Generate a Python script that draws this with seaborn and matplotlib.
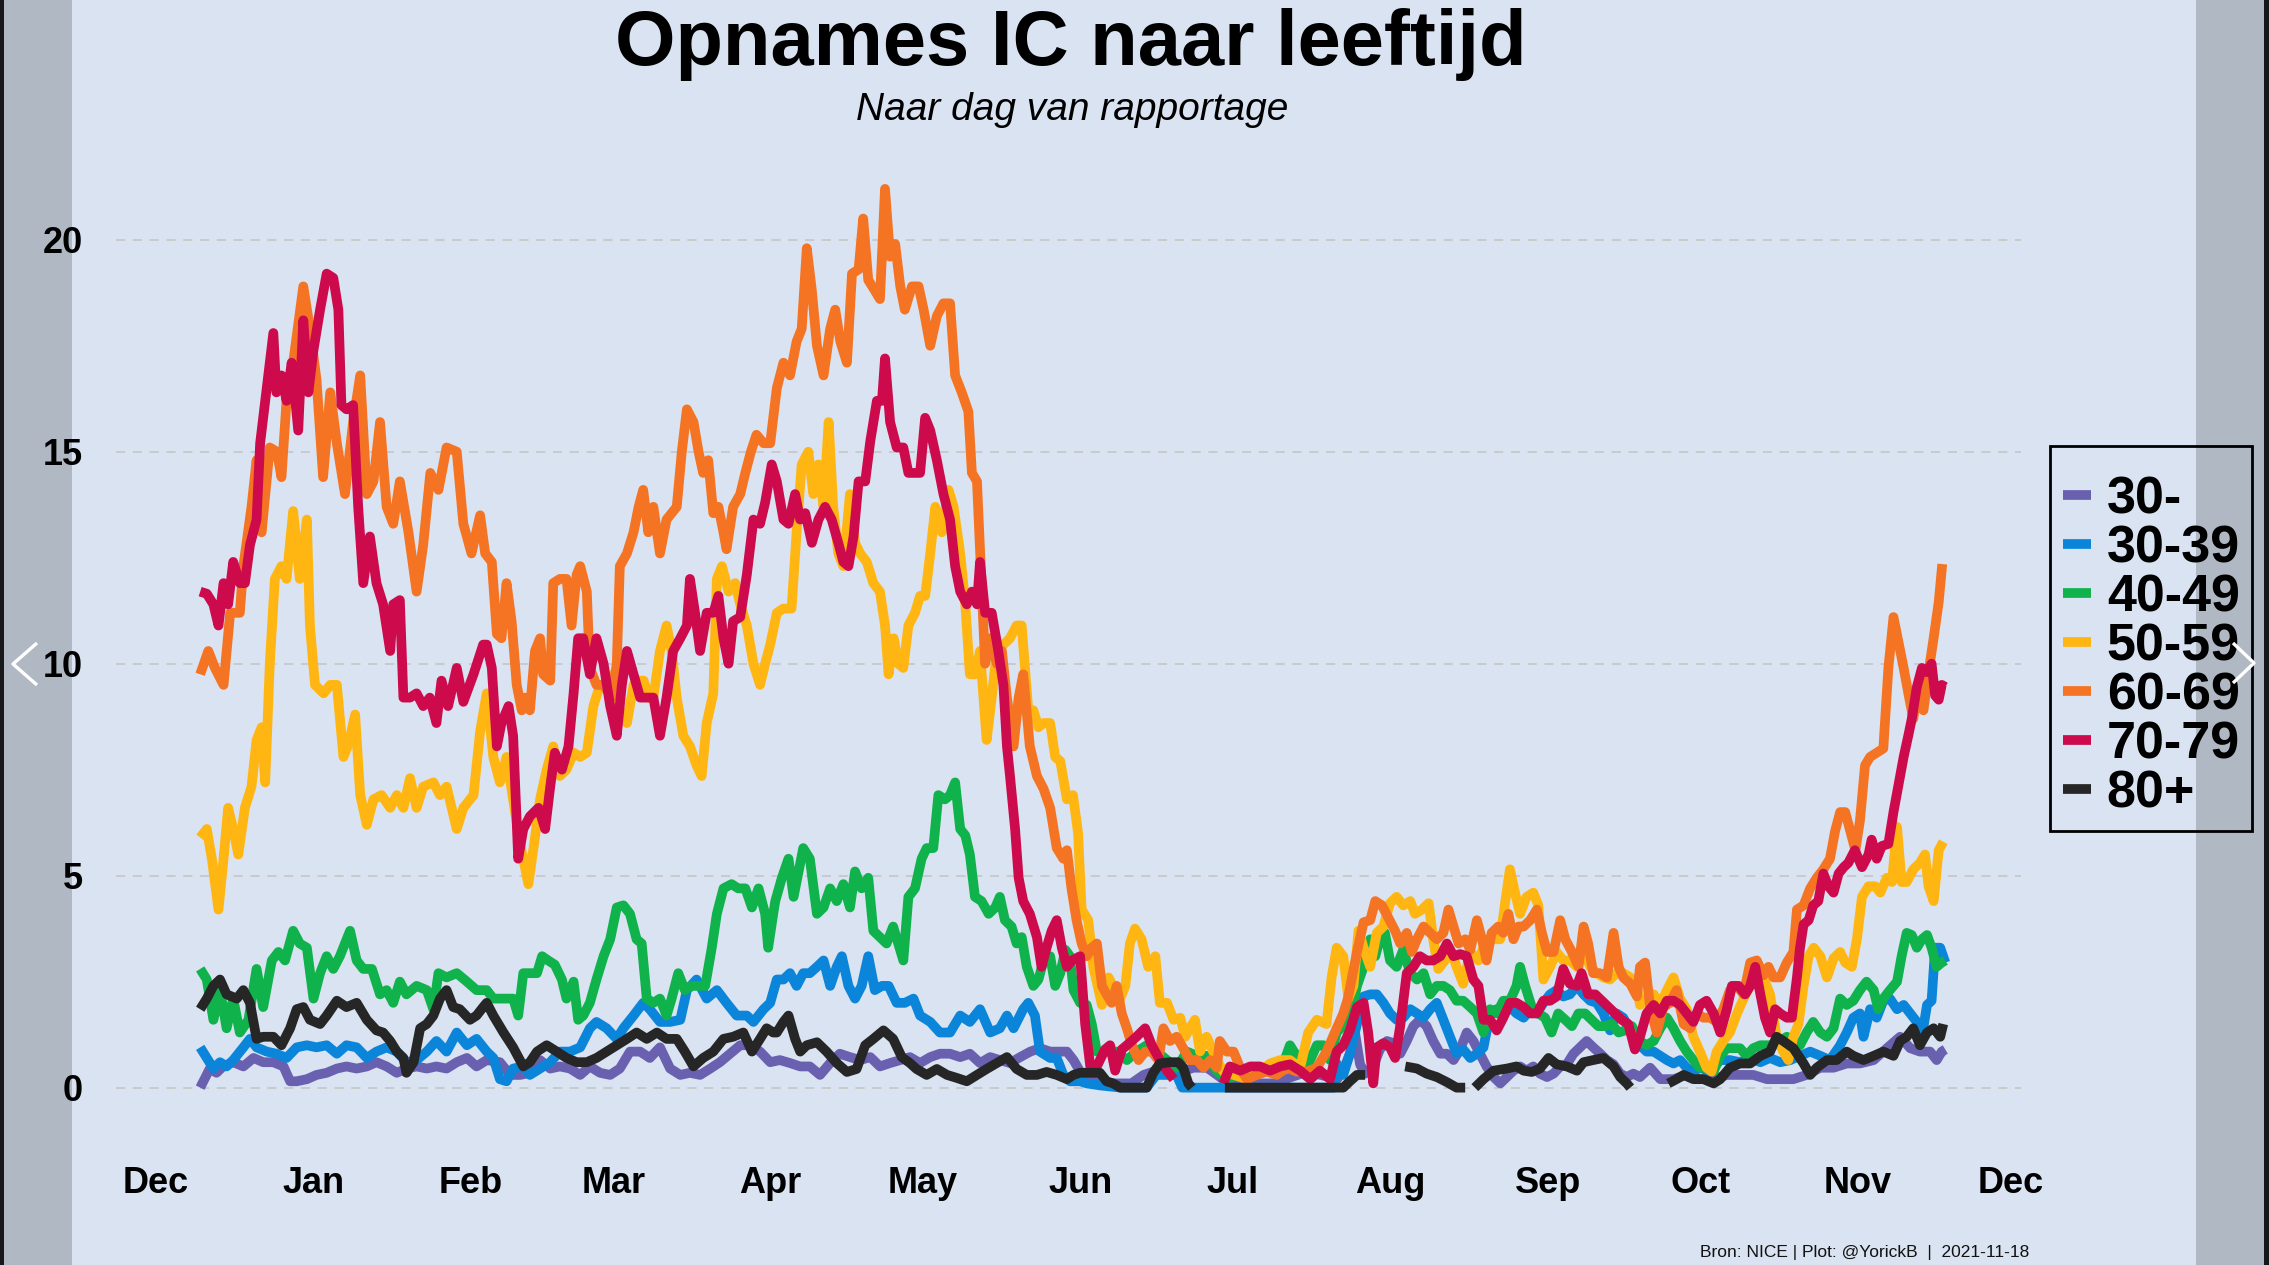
import numpy as np
import pandas as pd
import matplotlib
matplotlib.use("Agg")
import matplotlib.pyplot as plt
import seaborn as sns
from matplotlib.patches import Rectangle
from matplotlib.lines import Line2D
from matplotlib.font_manager import FontProperties

nan = float("nan")

# ---------------- data (x = days since 2020-12-01, y = IC admissions) ----------------
groups = ["30-", "30-39", "40-49", "50-59", "60-69", "70-79", "80+"]
colors = ["#6a60b0", "#0a85d9", "#10b24c", "#ffb612", "#f47423", "#cd0a4b", "#262626"]
month_labels = ["Dec", "Jan", "Feb", "Mar", "Apr", "May", "Jun", "Jul", "Aug", "Sep", "Oct", "Nov", "Dec"]
y_ticks = [0, 5, 10, 15, 20]

p30 = [(8.7,0.0),(10.6,0.45),(11.9,0.35),(13.2,0.5),(15.2,0.6),(17.2,0.5),(19.2,0.7),(21.1,0.6),(23.1,0.6),(25.1,0.5),(26.4,0.15),(27.7,0.15),(29.7,0.2),(31.6,0.3),(33.6,0.35),(35.6,0.45),(37.5,0.5),(39.5,0.45),(41.5,0.5),(43.4,0.6),(45.4,0.5),(47.4,0.35),(49.3,0.45),(51.3,0.5),(53.3,0.45),(55.2,0.5),(57.2,0.45),(59.2,0.6),(61.2,0.7),(63.1,0.5),(65.1,0.65),(67.7,0.6),(69.7,0.3),(71.7,0.3),(73.6,0.35),(75.6,0.65),(77.6,0.45),(79.5,0.5),(81.5,0.45),(83.5,0.3),(85.4,0.5),(87.4,0.35),(89.4,0.3),(91.3,0.45),(93.3,0.85),(95.3,0.85),(97.2,0.7),(99.2,0.95),(101.2,0.45),(103.2,0.3),(105.1,0.35),(107.1,0.3),(109.1,0.45),(111.0,0.6),(113.0,0.8),(115.0,1.0),(116.9,1.0),(118.9,0.85),(120.9,0.6),(122.8,0.65),(124.8,0.58),(126.8,0.5),(128.7,0.5),(130.7,0.3),(132.7,0.58),(134.6,0.8),(136.6,0.72),(138.6,0.65),(140.6,0.72),(142.5,0.5),(144.5,0.58),(146.5,0.65),(148.4,0.72),(150.4,0.58),(152.4,0.72),(154.3,0.8),(156.3,0.8),(158.3,0.72),(160.2,0.8),(162.2,0.58),(164.2,0.72),(166.1,0.65),(168.1,0.58),(170.1,0.72),(172.1,0.85),(174.0,0.93),(176.0,0.85),(178.0,0.85),(179.3,0.85),(180.6,0.65),(181.9,0.38),(184.0,0.2),(188.0,0.1),(192.0,0.1),(194.4,0.3),(196.4,0.38),(200.0,0.3),(204.2,0.47),(206.9,0.47),(210.0,0.2),(215.0,0.1),(220.0,0.1),(226.6,0.38),(229.2,0.3),(232.5,0.2),(234.0,0.5),(235.0,0.8),(236.0,1.3),(237.0,0.55),(238.0,0.33),(239.6,0.5),(240.9,0.9),(242.3,1.1),(243.6,1.05),(244.9,0.8),(246.2,1.1),(247.5,1.45),(248.8,1.6),(250.1,1.45),(251.4,1.1),(252.8,0.8),(254.1,0.8),(255.4,0.65),(256.7,0.9),(258.0,1.3),(259.3,1.1),(260.6,0.8),(261.9,0.5),(263.3,0.25),(264.6,0.1),(265.9,0.25),(267.2,0.4),(268.5,0.5),(269.8,0.4),(271.1,0.5),(272.4,0.33),(273.8,0.25),(275.1,0.33),(276.4,0.5),(277.7,0.55),(279.0,0.8),(280.3,0.95),(281.6,1.1),(282.9,0.95),(284.3,0.8),(285.6,0.65),(286.9,0.55),(288.2,0.33),(289.5,0.25),(290.8,0.33),(292.1,0.25),(294.1,0.47),(296.1,0.2),(298.7,0.2),(301.3,0.3),(303.9,0.2),(306.6,0.2),(309.2,0.3),(311.8,0.3),(314.4,0.3),(317.1,0.2),(319.7,0.2),(322.3,0.2),(324.9,0.3),(327.6,0.47),(330.2,0.47),(332.8,0.57),(335.4,0.57),(338.1,0.65),(340.7,0.93),(343.3,1.2),(345.3,0.93),(347.2,0.85),(349.2,0.85),(350.5,0.65),(351.5,0.85),(352.2,0.9)]

b3039 = [(8.7,0.95),(10.0,0.7),(11.3,0.45),(12.6,0.6),(13.9,0.5),(15.2,0.65),(17.2,0.95),(18.5,1.15),(19.8,0.95),(21.8,0.85),(23.7,0.8),(25.7,0.7),(27.7,0.95),(29.7,1.0),(31.6,0.95),(33.6,1.0),(35.6,0.8),(37.5,1.0),(39.5,0.95),(41.5,0.7),(43.4,0.85),(45.4,0.95),(47.4,0.85),(49.3,0.6),(51.3,0.65),(53.3,0.85),(55.2,1.1),(57.2,0.85),(59.2,1.3),(61.2,1.0),(63.1,1.15),(65.1,0.85),(66.4,0.7),(67.7,0.2),(69.0,0.15),(70.3,0.45),(72.3,0.5),(73.6,0.3),(75.6,0.45),(77.6,0.6),(79.5,0.85),(81.5,0.85),(83.5,0.95),(85.4,1.4),(86.7,1.55),(88.7,1.4),(90.7,1.15),(92.0,1.4),(94.0,1.7),(95.9,2.0),(97.2,1.85),(99.2,1.55),(101.2,1.55),(103.2,1.6),(104.5,2.3),(106.4,2.55),(108.4,2.1),(110.4,2.3),(112.3,2.0),(114.3,1.7),(116.3,1.7),(117.6,1.55),(119.6,1.85),(120.9,2.0),(122.2,2.55),(123.5,2.55),(124.8,2.7),(126.1,2.4),(127.4,2.7),(128.7,2.7),(130.1,2.85),(131.4,3.0),(132.7,2.4),(134.0,2.85),(135.0,3.1),(136.3,2.4),(137.6,2.1),(138.9,2.4),(140.2,3.1),(141.5,2.3),(142.9,2.4),(144.2,2.4),(145.8,2.0),(147.4,2.0),(149.1,2.1),(150.4,1.7),(152.4,1.55),(154.3,1.3),(156.3,1.3),(158.3,1.7),(160.2,1.55),(162.2,1.85),(164.2,1.3),(166.1,1.4),(167.5,1.7),(168.8,1.4),(170.7,1.85),(171.7,2.0),(173.0,1.7),(174.0,0.85),(176.0,0.7),(177.3,0.7),(178.6,0.3),(179.9,0.15),(181.9,0.15),(183.2,0.1),(186.0,0.05),(190.0,0.0),(195.0,0.0),(196.9,0.3),(200.9,0.3),(202.0,0.0),(231.8,0.0),(232.4,0.57),(233.7,0.3),(235.0,0.8),(236.4,1.5),(237.7,2.15),(239.0,2.2),(240.3,2.2),(241.6,2.0),(242.9,1.75),(244.2,1.6),(245.5,1.65),(246.9,1.85),(248.2,1.75),(249.5,1.65),(250.8,1.85),(252.1,2.0),(253.4,1.6),(254.7,1.2),(256.0,0.8),(257.3,0.9),(258.7,0.7),(260.0,0.8),(261.3,0.95),(262.6,1.75),(263.9,1.85),(265.2,1.75),(266.5,1.9),(267.8,1.75),(269.2,1.65),(270.5,1.85),(271.8,1.75),(273.1,2.0),(274.4,2.2),(275.7,2.3),(277.0,2.15),(278.3,2.2),(279.7,2.4),(281.0,2.2),(282.3,2.05),(283.6,2.0),(284.9,1.75),(286.2,1.35),(287.5,1.75),(288.8,1.65),(290.2,1.35),(291.5,1.3),(292.1,1.0),(293.4,0.85),(294.8,0.85),(296.1,0.75),(297.4,0.65),(298.7,0.57),(300.0,0.65),(301.3,0.47),(302.6,0.38),(303.9,0.47),(305.9,0.38),(307.9,0.65),(309.8,0.65),(311.8,0.6),(313.8,0.7),(315.8,0.6),(317.7,0.7),(319.7,0.6),(321.7,0.65),(323.6,0.75),(325.6,0.85),(327.6,0.75),(329.5,0.65),(331.5,1.0),(332.8,1.3),(334.1,1.65),(335.4,1.75),(336.1,1.2),(337.4,1.85),(338.7,1.65),(340.0,2.05),(341.3,2.1),(342.7,1.85),(344.0,1.95),(345.3,1.75),(346.6,1.55),(347.6,1.2),(348.6,1.95),(349.5,2.05),(350.2,3.3),(351.2,3.3),(352.2,2.95)]

g4049 = [(8.7,2.8),(10.0,2.55),(11.3,1.6),(12.6,2.3),(13.9,1.4),(15.2,2.1),(16.5,1.3),(18.2,1.6),(19.8,2.8),(21.1,1.9),(22.8,3.0),(24.1,3.2),(25.4,3.0),(27.0,3.7),(28.3,3.4),(29.7,3.3),(31.0,2.1),(32.3,2.7),(33.6,3.1),(34.9,2.8),(36.2,3.1),(38.2,3.7),(39.5,3.0),(40.8,2.8),(42.5,2.8),(44.1,2.2),(45.4,2.3),(46.7,2.0),(48.0,2.5),(49.3,2.2),(51.3,2.4),(53.3,2.3),(54.6,1.85),(55.6,2.7),(57.2,2.6),(59.2,2.7),(61.2,2.5),(63.1,2.3),(65.1,2.3),(66.4,2.1),(67.7,2.1),(69.0,2.1),(70.3,2.1),(71.3,1.7),(72.3,2.7),(73.6,2.7),(75.0,2.7),(76.0,3.1),(77.2,3.0),(78.5,2.9),(79.9,2.55),(80.8,2.1),(82.2,2.5),(83.1,1.6),(84.1,1.7),(85.4,2.0),(86.7,2.55),(88.1,3.1),(89.4,3.5),(90.7,4.25),(92.0,4.3),(93.3,4.1),(94.6,3.5),(95.6,3.4),(96.6,2.1),(97.9,2.0),(99.2,2.1),(100.5,1.7),(101.5,2.1),(102.8,2.7),(104.1,2.3),(105.4,2.4),(106.8,2.4),(108.1,2.4),(109.4,3.3),(110.4,4.1),(111.7,4.7),(113.3,4.8),(114.6,4.7),(116.0,4.7),(117.3,4.25),(118.6,4.7),(119.9,4.1),(120.5,3.3),(121.5,4.1),(121.9,4.4),(123.2,4.95),(124.5,5.4),(125.5,4.5),(126.5,5.1),(127.4,5.65),(128.7,5.4),(130.1,4.1),(131.4,4.25),(132.7,4.7),(134.0,4.4),(135.3,4.8),(136.6,4.25),(137.6,5.1),(138.9,4.7),(140.2,4.95),(141.2,3.7),(142.5,3.55),(143.8,3.4),(145.1,3.8),(146.1,3.4),(147.1,3.0),(148.1,4.5),(149.4,4.7),(150.7,5.4),(151.7,5.65),(153.0,5.65),(154.0,6.9),(155.3,6.8),(156.3,6.9),(157.3,7.2),(158.3,6.1),(159.3,5.95),(160.2,5.5),(161.2,4.5),(162.5,4.4),(163.9,4.1),(165.2,4.25),(166.1,4.5),(167.1,3.95),(168.4,3.8),(169.4,3.4),(170.4,3.55),(171.4,2.85),(172.7,2.4),(173.7,2.55),(174.7,3.0),(176.0,3.1),(177.0,2.4),(178.0,2.7),(179.0,3.25),(179.9,3.1),(180.6,2.3),(181.9,2.0),(183.2,1.95),(184.2,1.5),(185.2,0.85),(187.1,0.85),(189.1,0.85),(191.1,0.65),(193.0,0.85),(195.0,1.0),(197.0,0.85),(199.0,0.65),(201.0,0.47),(202.9,0.85),(204.9,0.75),(206.8,0.75),(208.8,0.38),(210.8,0.2),(212.7,0.3),(214.7,0.3),(217.3,0.38),(220.0,0.38),(221.9,0.57),(223.2,1.0),(224.5,0.75),(226.5,0.47),(228.5,1.0),(229.8,1.0),(231.1,0.65),(232.4,1.3),(234.0,1.5),(235.0,1.65),(236.4,2.4),(237.7,2.85),(239.0,3.5),(240.0,3.1),(240.9,3.5),(241.9,3.65),(242.9,3.0),(244.2,2.85),(245.5,3.25),(246.9,2.7),(248.2,2.55),(249.5,2.7),(250.8,2.2),(252.1,2.4),(253.4,2.4),(254.7,2.3),(256.0,2.05),(257.3,2.05),(258.7,1.9),(260.0,1.75),(261.3,1.3),(262.6,1.85),(263.9,1.75),(265.2,2.05),(266.5,2.05),(267.8,2.4),(268.5,2.85),(269.5,2.4),(270.8,1.9),(272.1,1.75),(273.4,1.65),(274.7,1.3),(276.0,1.75),(277.4,1.6),(278.7,1.45),(280.0,1.75),(281.3,1.75),(282.6,1.6),(283.9,1.45),(285.2,1.45),(286.5,1.5),(287.9,1.3),(289.2,1.35),(290.5,1.45),(292.1,1.1),(293.4,1.0),(294.8,1.1),(296.1,1.4),(297.4,1.65),(298.7,1.4),(300.0,1.1),(301.3,0.85),(302.6,0.65),(303.9,0.47),(305.2,0.47),(306.6,0.38),(307.9,0.75),(309.2,0.93),(310.5,0.93),(311.8,0.93),(313.1,0.75),(314.4,0.93),(315.8,1.0),(317.1,1.0),(318.4,1.0),(319.7,1.1),(321.0,1.2),(322.3,1.1),(323.6,1.0),(324.9,1.3),(326.2,1.55),(327.6,1.3),(328.9,1.2),(330.2,1.4),(331.5,2.1),(332.8,1.95),(334.1,2.05),(335.4,2.3),(336.7,2.5),(338.1,2.3),(339.0,1.85),(340.0,2.1),(341.3,2.3),(342.7,2.5),(343.6,3.1),(344.6,3.65),(345.6,3.6),(346.6,3.3),(347.6,3.5),(348.6,3.6),(349.5,3.3),(350.5,2.85),(351.5,2.95),(352.2,3.0)]

y5059 = [(8.7,5.9),(10.0,6.1),(11.0,5.4),(12.3,4.2),(13.3,5.4),(14.2,6.6),(15.2,6.1),(16.2,5.5),(17.5,6.6),(18.8,7.1),(19.8,8.2),(20.8,8.5),(21.5,7.2),(22.4,10.0),(23.4,12.0),(24.7,12.3),(25.7,12.0),(27.0,13.6),(28.3,12.0),(29.7,13.4),(30.3,10.9),(31.3,9.5),(33.0,9.3),(34.3,9.5),(35.6,9.5),(36.9,7.8),(37.9,8.1),(39.2,8.8),(40.2,6.9),(41.5,6.2),(42.8,6.8),(44.4,6.9),(46.1,6.6),(47.4,6.9),(48.7,6.6),(50.0,7.3),(51.3,6.6),(52.6,7.1),(54.6,7.2),(55.9,6.9),(57.2,7.1),(59.2,6.1),(60.5,6.6),(62.5,6.9),(63.8,8.4),(65.1,9.3),(66.4,7.8),(67.7,7.2),(69.0,7.8),(70.3,6.8),(71.6,5.8),(73.3,4.8),(74.6,5.9),(75.6,6.8),(76.9,7.5),(78.2,8.05),(79.5,7.35),(80.8,7.5),(82.2,7.9),(83.5,7.8),(84.8,7.9),(86.1,9.0),(87.4,9.5),(88.7,9.5),(90.0,9.75),(91.3,8.9),(92.7,8.6),(94.0,9.5),(95.0,9.6),(96.0,9.6),(96.9,9.2),(97.9,9.2),(99.2,10.3),(100.5,10.9),(101.5,10.3),(102.5,9.2),(103.8,8.3),(105.1,8.05),(106.4,7.6),(107.4,7.35),(108.4,8.6),(109.7,9.3),(110.4,12.0),(111.4,12.3),(112.7,11.7),(114.0,11.9),(115.0,11.4),(116.3,10.9),(117.6,10.0),(118.9,9.5),(119.9,10.0),(120.9,10.45),(122.2,11.2),(123.5,11.3),(125.1,11.3),(126.1,13.1),(127.1,14.7),(128.4,15.0),(129.4,14.0),(130.4,14.7),(131.4,13.7),(132.4,15.7),(133.3,13.7),(134.3,12.6),(135.3,12.3),(136.6,14.0),(137.6,12.85),(138.6,12.6),(139.9,12.4),(141.2,11.9),(142.5,11.7),(143.5,10.9),(144.2,9.75),(145.2,10.6),(146.1,10.0),(147.1,9.9),(148.1,10.9),(149.4,11.2),(150.4,11.6),(151.4,11.6),(152.4,12.6),(153.4,13.7),(154.7,13.1),(156.0,14.1),(157.0,13.7),(158.3,12.6),(159.3,11.4),(160.2,9.75),(161.2,9.75),(162.2,10.3),(163.5,8.2),(164.5,9.2),(165.5,10.3),(166.8,10.45),(168.1,10.6),(169.4,10.9),(170.4,10.9),(171.7,8.9),(172.7,8.9),(173.7,8.5),(174.7,8.6),(176.0,8.6),(177.0,7.8),(178.0,7.7),(179.3,6.8),(180.5,6.9),(181.5,6.0),(182.2,4.2),(183.5,3.95),(184.5,2.85),(186.2,1.95),(187.5,2.6),(188.8,2.3),(189.8,2.1),(190.8,2.4),(191.7,3.4),(192.7,3.75),(194.0,3.5),(195.3,2.85),(196.7,3.1),(197.6,2.0),(199.0,2.0),(200.3,1.6),(201.6,1.65),(202.6,1.2),(203.5,1.4),(204.5,1.6),(205.5,0.85),(206.8,1.2),(207.8,0.93),(208.8,0.65),(210.1,0.38),(212.1,0.3),(214.7,0.2),(217.3,0.38),(219.3,0.57),(221.3,0.65),(223.2,0.65),(225.2,0.47),(226.8,1.3),(228.5,1.6),(230.4,1.5),(231.4,2.6),(232.4,3.3),(233.7,3.1),(234.7,2.1),(235.7,2.4),(236.7,3.7),(237.7,3.3),(239.0,2.85),(240.3,3.65),(241.6,3.8),(242.9,4.35),(244.2,4.5),(245.5,4.3),(246.9,4.4),(247.8,4.1),(249.2,4.2),(250.5,4.35),(251.4,3.5),(252.4,2.8),(253.7,3.0),(255.0,3.2),(256.0,2.85),(257.3,2.45),(258.7,3.2),(260.3,3.0),(261.9,3.5),(263.3,3.5),(264.6,3.5),(265.6,4.4),(266.5,5.15),(267.5,4.6),(268.5,4.1),(269.8,4.5),(271.1,4.6),(272.1,4.3),(273.1,2.55),(274.4,2.85),(275.7,3.2),(277.0,3.0),(278.3,3.0),(279.7,2.85),(281.0,3.2),(282.3,2.85),(283.6,2.7),(284.9,2.6),(286.2,2.55),(287.5,2.7),(288.8,2.7),(290.2,2.6),(291.5,2.4),(292.1,1.95),(293.4,2.1),(294.8,2.2),(296.1,1.95),(297.4,2.3),(298.7,2.6),(300.0,2.1),(301.3,1.85),(302.6,1.2),(303.9,0.85),(305.2,0.47),(306.2,0.38),(307.2,0.85),(308.5,1.1),(309.8,1.3),(311.2,1.75),(312.5,2.1),(313.8,2.4),(315.1,2.5),(316.4,2.6),(317.7,2.2),(319.0,1.2),(320.3,0.85),(321.3,0.65),(322.3,1.2),(323.3,1.5),(324.3,2.4),(325.3,3.1),(326.3,3.3),(327.6,3.1),(328.9,2.6),(330.2,3.05),(331.5,3.2),(332.5,2.95),(333.8,2.85),(334.8,3.5),(335.8,4.5),(337.1,4.75),(338.4,4.75),(339.4,4.6),(340.7,4.95),(341.7,4.85),(342.7,6.15),(343.6,4.85),(344.6,4.85),(345.9,5.15),(347.2,5.3),(348.2,5.5),(348.9,4.75),(349.9,4.4),(350.9,5.6),(351.8,5.8)]

o6069 = [(8.7,9.75),(10.3,10.3),(11.6,9.9),(13.3,9.5),(14.6,11.2),(16.5,11.2),(17.2,12.3),(18.8,13.7),(19.8,14.8),(20.8,13.1),(22.4,15.1),(23.8,15.0),(24.7,14.4),(25.7,16.2),(27.0,17.1),(29.0,18.9),(30.3,17.9),(31.6,16.7),(32.9,14.4),(34.3,16.4),(35.6,15.2),(37.2,14.0),(38.8,15.7),(40.2,16.8),(41.5,14.0),(42.8,14.3),(44.1,15.7),(45.4,13.7),(46.7,13.3),(48.0,14.3),(49.7,13.1),(51.3,11.7),(52.6,12.8),(54.0,14.5),(55.6,14.1),(57.2,15.1),(59.2,15.0),(60.5,13.3),(62.1,12.6),(63.8,13.5),(64.8,12.6),(66.1,12.4),(67.1,10.7),(68.0,10.6),(69.0,11.9),(70.0,11.0),(71.0,9.5),(72.0,8.9),(72.6,9.2),(73.6,8.9),(74.6,10.3),(75.6,10.6),(76.2,9.75),(77.6,9.6),(78.2,11.9),(79.5,12.0),(80.8,12.0),(81.8,10.9),(82.8,12.1),(83.5,12.3),(84.8,11.7),(85.4,9.9),(86.7,9.5),(88.1,9.5),(89.7,9.2),(90.7,10.0),(91.3,12.3),(92.7,12.6),(94.0,13.1),(95.0,13.7),(95.9,14.1),(96.9,13.1),(97.9,13.7),(99.2,12.6),(100.5,13.4),(101.5,13.55),(102.5,13.7),(103.5,15.0),(104.5,16.0),(105.8,15.7),(106.8,15.0),(107.7,14.5),(108.7,14.8),(109.7,13.55),(110.7,13.7),(111.7,13.1),(112.3,12.7),(113.6,13.7),(115.0,14.0),(116.0,14.5),(117.1,15.0),(118.2,15.4),(119.6,15.2),(120.9,15.2),(122.2,16.5),(123.5,17.1),(124.8,16.8),(126.1,17.6),(127.1,17.9),(128.1,19.8),(129.1,18.8),(130.1,17.5),(131.4,16.8),(132.7,17.9),(133.7,18.35),(134.7,17.6),(136.0,17.1),(137.0,19.2),(138.3,19.3),(139.2,20.5),(140.2,19.05),(141.5,18.8),(142.5,18.6),(143.5,21.2),(144.5,19.6),(145.5,19.9),(146.5,18.9),(147.4,18.35),(148.8,18.9),(150.1,18.9),(151.1,18.35),(152.4,17.5),(153.7,18.2),(155.0,18.5),(156.3,18.5),(157.3,16.8),(158.6,16.4),(159.9,15.95),(160.6,14.5),(161.6,14.3),(162.2,12.7),(163.2,10.0),(164.2,10.6),(165.5,10.0),(166.5,10.3),(167.5,9.2),(168.8,8.05),(169.8,9.2),(170.7,9.75),(172.0,8.05),(173.4,7.35),(174.7,7.05),(176.0,6.6),(177.3,5.65),(178.6,5.4),(179.3,5.6),(180.2,4.7),(181.2,3.95),(182.2,3.4),(183.2,3.1),(184.2,3.3),(185.2,3.4),(186.2,2.4),(187.1,2.2),(188.1,2.0),(189.1,2.4),(190.1,1.75),(191.1,1.4),(192.1,1.0),(193.4,0.65),(194.7,0.85),(196.0,0.85),(197.3,0.65),(198.3,1.4),(199.6,1.1),(200.9,1.2),(202.2,0.93),(203.5,0.65),(204.9,0.65),(206.2,0.47),(207.5,0.65),(208.8,0.47),(209.4,1.1),(210.8,0.85),(212.1,0.85),(213.4,0.47),(214.7,0.2),(216.7,0.3),(218.6,0.38),(220.6,0.3),(222.6,0.47),(224.5,0.38),(226.5,0.38),(228.5,0.47),(230.4,0.85),(232.4,1.4),(233.7,1.75),(234.6,2.1),(236.4,3.2),(237.7,3.9),(239.0,3.95),(240.0,4.4),(241.3,4.3),(242.6,4.0),(243.9,3.7),(244.9,3.4),(246.2,3.65),(247.2,3.2),(248.2,3.5),(249.5,3.8),(250.8,3.65),(252.1,3.5),(253.4,3.65),(254.4,4.2),(255.4,3.8),(256.4,3.4),(257.7,3.5),(258.7,3.25),(260.0,3.95),(261.0,3.5),(261.9,3.0),(262.9,3.65),(264.2,3.8),(265.2,3.65),(266.2,4.1),(267.2,3.5),(268.2,3.8),(269.2,3.8),(270.5,3.95),(271.8,4.2),(272.8,3.65),(273.8,3.2),(275.1,3.2),(276.4,3.95),(277.4,3.5),(278.7,3.2),(280.0,2.85),(281.0,3.8),(281.9,3.4),(282.9,2.7),(284.2,2.7),(285.6,2.6),(286.9,3.65),(287.9,2.85),(288.8,2.6),(290.2,2.45),(291.5,2.15),(292.1,2.85),(293.1,2.95),(294.1,1.9),(295.4,1.3),(296.7,1.9),(298.0,2.0),(299.3,2.3),(300.7,1.5),(302.0,1.4),(303.3,1.75),(304.6,1.65),(305.9,1.65),(307.2,1.55),(308.5,1.85),(309.8,2.3),(311.2,2.4),(312.5,2.2),(313.8,2.95),(315.1,3.0),(316.4,2.65),(317.4,2.85),(318.4,2.6),(319.7,2.6),(321.0,2.95),(322.3,3.2),(323.0,4.2),(324.3,4.3),(325.6,4.7),(326.9,4.95),(328.2,5.15),(329.5,5.4),(330.5,6.05),(331.5,6.5),(332.5,6.5),(333.5,6.05),(334.5,5.6),(335.4,6.3),(336.4,7.6),(337.4,7.8),(338.7,7.9),(340.0,8.0),(341.0,9.9),(342.0,11.1),(343.0,10.5),(344.0,9.9),(345.0,9.25),(345.9,8.7),(346.9,9.5),(347.9,8.9),(348.9,9.8),(349.9,10.6),(350.9,11.45),(351.6,12.35)]

r7079 = [(8.7,11.7),(10.0,11.65),(11.3,11.4),(12.3,10.9),(13.3,11.9),(14.2,11.4),(15.2,12.4),(16.5,11.9),(17.5,11.9),(18.5,12.8),(19.8,13.4),(20.5,15.2),(21.8,16.5),(23.1,17.8),(23.7,16.4),(24.7,16.8),(25.7,16.2),(26.7,17.1),(28.0,15.5),(29.0,18.1),(30.0,16.4),(31.0,17.4),(32.3,18.35),(33.6,19.2),(34.9,19.1),(35.9,18.35),(36.5,16.1),(37.5,16.0),(38.8,16.1),(39.8,13.7),(40.8,11.9),(42.1,13.0),(43.4,11.9),(44.7,11.4),(46.1,10.3),(46.7,11.4),(48.0,11.5),(48.7,9.2),(50.0,9.2),(51.3,9.3),(52.6,9.0),(53.9,9.2),(55.2,8.6),(56.2,9.6),(57.5,9.0),(59.2,9.9),(60.5,9.1),(62.5,9.75),(64.4,10.45),(65.1,10.45),(66.1,9.9),(67.1,8.05),(68.0,8.6),(69.4,9.0),(70.3,8.3),(71.3,5.4),(72.3,6.1),(73.6,6.4),(75.3,6.6),(76.6,6.1),(77.6,7.1),(78.5,7.9),(79.9,7.5),(81.2,8.05),(82.2,9.3),(83.1,10.6),(84.1,10.6),(85.4,9.75),(86.7,10.6),(88.1,10.0),(89.4,9.0),(90.7,8.3),(91.7,9.5),(92.7,10.3),(94.0,9.75),(95.3,9.2),(96.6,9.2),(97.9,9.2),(99.2,8.3),(100.5,9.2),(101.8,10.3),(103.2,10.6),(104.5,10.9),(105.1,12.0),(106.1,11.2),(107.1,10.3),(108.4,11.2),(109.7,11.2),(110.7,11.6),(111.7,10.6),(112.7,10.0),(113.6,11.0),(115.0,11.1),(116.3,12.1),(117.6,13.4),(118.9,13.3),(119.9,13.8),(121.2,14.7),(122.2,14.3),(123.5,13.4),(124.5,13.3),(125.8,14.0),(126.8,13.4),(127.8,13.55),(129.1,12.85),(130.4,13.4),(131.7,13.7),(133.0,13.4),(134.3,12.85),(135.3,12.4),(136.3,12.3),(137.3,13.0),(138.3,14.3),(139.6,14.3),(140.6,15.25),(141.9,16.2),(142.9,16.2),(143.5,17.2),(144.5,15.7),(145.8,15.1),(147.1,15.1),(148.1,14.5),(149.4,14.5),(150.4,14.5),(151.4,15.8),(152.4,15.5),(153.7,14.8),(155.0,14.0),(156.3,13.4),(157.3,12.3),(158.3,11.7),(159.6,11.4),(160.6,11.7),(161.6,11.4),(162.2,12.4),(163.2,11.2),(164.5,11.2),(165.8,10.3),(166.8,9.5),(167.5,8.05),(168.1,7.35),(169.1,6.1),(169.8,4.95),(170.7,4.4),(172.0,4.1),(173.4,3.55),(174.3,2.85),(175.3,3.3),(176.3,3.7),(177.3,3.95),(178.3,3.3),(179.3,2.85),(180.3,3.0),(181.9,3.1),(182.9,1.5),(183.9,0.5),(185.2,0.5),(186.8,0.9),(187.8,1.0),(188.8,0.4),(190.1,0.9),(191.1,1.0),(193.0,1.2),(194.7,1.4),(196.0,1.0),(197.6,0.65),(199.0,0.4),(200.3,0.2),(205.0,nan),(210.1,0.1),(211.4,0.5),(213.4,0.4),(215.4,0.5),(217.3,0.5),(219.3,0.4),(221.3,0.5),(223.2,0.55),(225.2,0.4),(227.2,0.2),(229.1,0.4),(231.1,0.2),(232.4,0.85),(233.7,1.0),(235.0,1.35),(236.4,1.9),(237.7,2.0),(238.6,1.3),(239.6,0.1),(240.3,0.95),(241.6,1.05),(242.9,0.95),(243.9,0.7),(244.9,1.45),(246.2,2.7),(247.5,2.85),(248.8,3.1),(250.1,3.0),(251.4,3.0),(252.8,3.1),(254.1,3.4),(255.4,3.1),(256.7,3.15),(258.0,3.1),(259.3,2.55),(260.3,2.4),(261.3,1.6),(262.6,1.6),(263.9,1.35),(265.2,1.65),(266.5,2.0),(267.8,2.0),(269.2,1.9),(270.5,1.75),(271.8,1.75),(273.1,2.05),(274.4,2.05),(275.7,2.15),(277.0,2.8),(278.3,2.45),(279.7,2.4),(280.6,2.7),(281.9,2.2),(283.3,2.2),(284.6,2.05),(285.9,1.9),(287.2,1.75),(288.5,1.6),(289.8,1.5),(291.1,0.9),(292.1,1.2),(293.4,1.75),(294.8,1.95),(296.1,1.75),(297.4,2.05),(298.7,2.05),(300.0,1.95),(301.3,1.75),(302.6,1.55),(303.9,1.95),(305.2,2.05),(306.6,1.75),(307.9,1.3),(309.2,1.85),(310.2,2.4),(311.5,2.4),(312.8,2.2),(313.8,2.4),(314.8,2.85),(315.8,2.2),(316.7,1.65),(317.7,1.3),(318.7,1.85),(319.7,1.75),(321.0,1.65),(322.0,1.65),(323.0,2.6),(323.6,3.3),(324.3,3.85),(325.3,3.95),(326.2,4.3),(327.2,4.4),(328.2,5.05),(329.2,4.75),(330.2,4.6),(331.2,5.05),(332.2,5.2),(333.1,5.3),(334.4,5.6),(335.8,5.2),(337.1,5.5),(337.7,5.85),(338.7,5.4),(339.7,5.7),(341.0,5.75),(342.0,6.5),(343.0,7.15),(344.0,7.8),(345.0,8.35),(345.6,8.7),(346.6,9.45),(347.6,9.9),(348.6,9.8),(349.5,10.0),(350.2,9.25),(350.9,9.15),(351.5,9.5),(352.2,9.45)]

k80 = [(8.7,1.85),(10.0,2.1),(11.3,2.4),(12.6,2.55),(13.9,2.2),(15.9,2.1),(17.2,2.3),(18.5,2.0),(19.8,1.15),(21.1,1.2),(23.1,1.2),(24.7,1.0),(26.4,1.4),(27.7,1.85),(29.0,1.9),(30.3,1.6),(32.3,1.5),(33.6,1.7),(35.6,2.05),(37.5,1.9),(39.5,2.0),(41.5,1.6),(43.4,1.35),(44.7,1.3),(46.1,1.1),(47.4,0.85),(48.7,0.7),(49.3,0.35),(50.7,0.6),(52.0,1.4),(53.3,1.5),(54.6,1.7),(55.9,2.1),(57.2,2.3),(58.5,1.9),(59.8,1.85),(61.8,1.6),(63.1,1.7),(64.4,1.9),(65.1,2.0),(66.4,1.7),(68.4,1.3),(70.3,0.95),(72.3,0.5),(73.6,0.6),(75.0,0.85),(76.9,1.0),(78.9,0.85),(80.8,0.7),(82.8,0.6),(84.8,0.6),(86.7,0.7),(88.7,0.85),(90.7,1.0),(92.7,1.15),(94.6,1.3),(96.6,1.15),(98.6,1.3),(100.5,1.15),(102.5,1.15),(104.1,0.85),(105.8,0.5),(107.7,0.7),(109.7,0.85),(111.7,1.15),(113.6,1.2),(115.6,1.3),(117.3,0.85),(118.9,1.15),(120.2,1.4),(121.5,1.3),(122.2,1.3),(123.5,1.55),(124.5,1.7),(125.8,1.15),(126.8,0.85),(128.1,1.0),(130.1,1.07),(132.0,0.85),(134.0,0.58),(136.0,0.37),(137.9,0.44),(139.6,1.0),(141.2,1.15),(143.2,1.35),(145.1,1.15),(146.8,0.72),(148.4,0.58),(149.7,0.44),(151.7,0.3),(153.7,0.44),(155.7,0.3),(157.6,0.23),(159.6,0.15),(161.6,0.3),(163.5,0.44),(165.5,0.58),(167.5,0.72),(169.4,0.44),(171.4,0.3),(173.4,0.3),(175.3,0.37),(177.3,0.3),(179.3,0.2),(180.6,0.3),(181.9,0.35),(183.2,0.35),(184.5,0.35),(185.8,0.35),(187.1,0.15),(188.4,0.1),(189.8,0.0),(195.0,0.0),(196.3,0.35),(197.6,0.57),(199.6,0.6),(201.2,0.6),(202.2,0.47),(203.2,0.1),(203.9,0.0),(207.0,nan),(210.4,0.0),(233.7,0.0),(235.0,0.15),(236.4,0.3),(238.0,0.3),(242.0,nan),(245.9,0.5),(248.2,0.45),(250.1,0.33),(252.1,0.25),(254.1,0.13),(256.0,0.0),(257.7,0.0),(258.6,nan),(259.6,0.0),(261.3,0.2),(263.3,0.4),(265.9,0.45),(267.8,0.5),(269.2,0.4),(270.8,0.37),(272.4,0.45),(274.1,0.7),(275.7,0.55),(277.7,0.5),(279.7,0.4),(281.0,0.6),(282.9,0.65),(284.9,0.7),(286.9,0.5),(288.2,0.25),(289.5,0.1),(290.2,0.0),(294.0,nan),(297.7,0.1),(299.3,0.2),(300.7,0.3),(302.6,0.2),(304.6,0.2),(306.6,0.1),(307.9,0.2),(309.8,0.47),(311.8,0.57),(313.8,0.57),(315.8,0.75),(317.7,0.85),(319.0,1.2),(320.3,1.1),(322.3,0.93),(324.3,0.57),(325.6,0.3),(326.9,0.47),(328.9,0.65),(330.8,0.65),(332.8,0.85),(334.1,0.75),(336.1,0.65),(338.1,0.75),(340.0,0.85),(342.0,0.75),(343.3,1.1),(344.6,1.2),(345.9,1.4),(347.2,1.0),(348.6,1.3),(349.9,1.4),(351.2,1.2),(351.8,1.5)]

series = dict(zip(groups, [p30, b3039, g4049, y5059, o6069, r7079, k80]))

# ---------------- build long-form table (NaN = gap in the line) ----------------
rows = []
for g, pts in series.items():
    seg = 0
    for d, v in pts:
        if np.isnan(v):
            seg += 1
            continue
        rows.append((g, d, v, f"{g}#{seg}"))
df = pd.DataFrame(rows, columns=["group", "day", "value", "seg"])

origin = pd.Timestamp("2020-12-01")
month_starts = pd.date_range("2020-12-01", "2021-12-01", freq="MS")
month_pos = [(m - origin).days for m in month_starts]

# ---------------- style ----------------
BG = "#dae3f1"
plt.rcParams["font.family"] = ["Liberation Sans", "DejaVu Sans"]
plt.rcParams["lines.solid_joinstyle"] = "round"
plt.rcParams["lines.solid_capstyle"] = "butt"

W, H = 2269, 1265
fig = plt.figure(figsize=(W / 100, H / 100), dpi=100)
fig.patch.set_facecolor(BG)

ax = fig.add_axes([116 / W, 1 - 1133 / H, (2021 - 116) / W, (1133 - 138) / H])
ax.set_facecolor(BG)

sns.lineplot(data=df, x="day", y="value", hue="group", hue_order=groups,
             palette=colors, units="seg", estimator=None, sort=False,
             linewidth=7.0, ax=ax, legend=True)

ax.set_xlim(-7.87, 367.1)
ax.set_ylim(-1.07, 22.4)
ax.set_xticks(month_pos)
ax.set_xticklabels(month_labels)
ax.set_yticks(y_ticks)
ax.set_yticklabels([str(t) for t in y_ticks])
ax.tick_params(axis="both", length=0, labelsize=26, pad=24, colors="black")
for lab in ax.get_xticklabels() + ax.get_yticklabels():
    lab.set_fontweight("bold")
for s in ax.spines.values():
    s.set_visible(False)
ax.set_xlabel("")
ax.set_ylabel("")
ax.xaxis.grid(False)
ax.yaxis.grid(True, linestyle=(0, (6, 5)), linewidth=1.1, color="#c3c3c3")
ax.set_axisbelow(True)

# legend
old = ax.get_legend()
handles = old.legend_handles
labels = [t.get_text() for t in old.get_texts()]
old.remove()
leg = fig.legend(handles, labels, loc="upper left",
                 bbox_to_anchor=(2050 / W, 1 - 446 / H), bbox_transform=fig.transFigure,
                 frameon=True, fancybox=False, edgecolor="black", facecolor=BG, framealpha=1,
                 prop=FontProperties(family="Liberation Sans", weight="bold", size=37.5),
                 title=" ", title_fontsize=14,
                 handlelength=0.55, handletextpad=0.3, labelspacing=0.0,
                 borderpad=0.24, borderaxespad=0)
leg.get_frame().set_linewidth(2)
for h in leg.get_lines():
    h.set_linewidth(7.0)
    h.set_solid_capstyle("butt")

# titles and caption
fig.text(1071 / W, 1 - 65 / H, "Opnames IC naar leeftijd", ha="center", va="baseline",
         fontsize=56, fontweight="bold", color="black")
fig.text(1072 / W, 1 - 120 / H, "Naar dag van rapportage", ha="center", va="baseline",
         fontsize=28, fontstyle="italic", color="black")
fig.text(2029 / W, 1 - 1252 / H, "Bron: NICE | Plot: @YorickB  |  2021-11-18", ha="right",
         va="center", fontsize=12.5, color="#111111")

# screenshot frame: darkened side bands, edges, navigation chevrons
for x0, x1 in [(0, 72), (2196, 2269)]:
    fig.add_artist(Rectangle((x0 / W, 0), (x1 - x0) / W, 1, transform=fig.transFigure,
                             facecolor="black", alpha=0.19, edgecolor="none", zorder=20))
for x0, x1 in [(0, 4), (2264, 2269)]:
    fig.add_artist(Rectangle((x0 / W, 0), (x1 - x0) / W, 1, transform=fig.transFigure,
                             facecolor="#16181a", edgecolor="none", zorder=21))
fig.add_artist(Line2D([37 / W, 13 / W, 37 / W], [1 - 643 / H, 1 - 664 / H, 1 - 685 / H],
                      transform=fig.transFigure, color="white", linewidth=2.4, zorder=22))
fig.add_artist(Line2D([2233 / W, 2254 / W, 2233 / W], [1 - 643 / H, 1 - 663 / H, 1 - 683 / H],
                      transform=fig.transFigure, color="white", linewidth=2.4, zorder=22))

fig.savefig("out.png", dpi=100, facecolor=BG)
